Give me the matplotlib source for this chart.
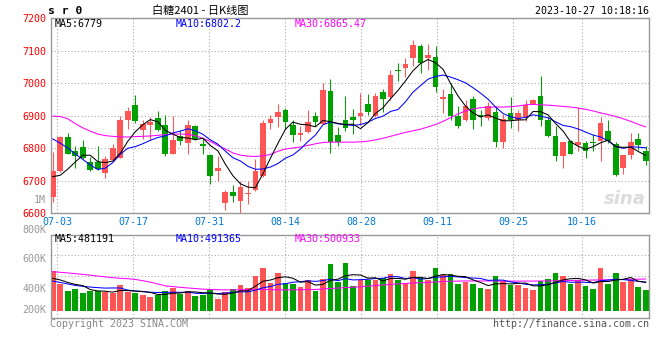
import matplotlib
matplotlib.use('Agg')
import matplotlib.pyplot as plt

# SR0 white sugar daily bars, 06-30 .. 10-27 (80 trading days)
opens = [6648, 6728, 6835, 6792, 6802, 6758, 6757, 6723, 6762, 6770,
         6885, 6933, 6856, 6871, 6892, 6871, 6783, 6836, 6814, 6868,
         6813, 6779, 6728, 6630, 6665, 6636, 6657, 6670, 6713, 6877,
         6895, 6918, 6871, 6841, 6850, 6899, 6875, 6976, 6841, 6887,
         6896, 6897, 6936, 6897, 6973, 6958, 7040, 7046, 7076, 7114,
         7076, 7080, 6950, 6967, 6897, 6885, 6950, 6902, 6892, 6912,
         6817, 6907, 6885, 6895, 6936, 6961, 6887, 6838, 6774, 6822,
         6810, 6815, 6819, 6823, 6853, 6812, 6740, 6779, 6827, 6790]
highs = [6787, 6836, 6847, 6805, 6825, 6773, 6806, 6774, 6813, 6899,
         6926, 6964, 6887, 6895, 6913, 6902, 6897, 6856, 6887, 6871,
         6830, 6781, 6776, 6672, 6687, 6697, 6697, 6766, 6887, 6902,
         6936, 6923, 6887, 6868, 6918, 6912, 6999, 7012, 6866, 6961,
         6920, 6968, 6967, 6969, 6981, 7041, 7061, 7076, 7133, 7120,
         7120, 7114, 6981, 6999, 6930, 6948, 6959, 6918, 6943, 6930,
         6905, 6956, 6918, 6948, 6950, 7022, 6895, 6868, 6820, 6825,
         6926, 6822, 6843, 6895, 6887, 6820, 6779, 6846, 6846, 6805]
lows = [6633, 6725, 6781, 6737, 6766, 6729, 6733, 6709, 6760, 6770,
        6859, 6877, 6827, 6825, 6851, 6776, 6781, 6808, 6783, 6825,
        6783, 6689, 6697, 6610, 6633, 6601, 6627, 6668, 6710, 6859,
        6866, 6860, 6817, 6823, 6846, 6868, 6875, 6786, 6805, 6851,
        6843, 6871, 6901, 6895, 6912, 6948, 7005, 7020, 7051, 7032,
        7041, 6971, 6907, 6885, 6863, 6882, 6858, 6869, 6885, 6803,
        6799, 6862, 6851, 6882, 6934, 6869, 6834, 6761, 6738, 6781,
        6790, 6769, 6790, 6761, 6815, 6715, 6721, 6766, 6793, 6749]
closes = [6730, 6833, 6783, 6774, 6768, 6731, 6735, 6767, 6799, 6887,
          6915, 6882, 6874, 6879, 6854, 6782, 6825, 6822, 6871, 6828,
          6805, 6713, 6740, 6665, 6651, 6681, 6662, 6730, 6878, 6890,
          6911, 6879, 6840, 6845, 6881, 6881, 6977, 6820, 6820, 6863,
          6887, 6908, 6912, 6961, 6951, 7025, 7037, 7059, 7117, 7061,
          7087, 6989, 6957, 6899, 6869, 6930, 6885, 6895, 6930, 6820,
          6889, 6885, 6907, 6933, 6948, 6885, 6836, 6774, 6817, 6783,
          6817, 6790, 6814, 6877, 6822, 6718, 6779, 6818, 6810, 6761]

ma5 = [6712, 6716, 6735, 6757, 6777.6, 6777.8, 6758.2, 6755, 6760, 6783.8,
       6820.6, 6850, 6871.4, 6887.4, 6880.8, 6854.2, 6842.8, 6832.4, 6830.8, 6825.6,
       6830.2, 6807.8, 6791.4, 6750.2, 6714.8, 6690, 6679.8, 6677.8, 6720.4, 6768.2,
       6814.2, 6857.6, 6879.6, 6873, 6871.2, 6865.2, 6884.8, 6880.8, 6875.8, 6872.2,
       6873.4, 6859.6, 6878, 6906.2, 6923.8, 6951.4, 6977.2, 7006.6, 7037.8, 7059.8,
       7072.2, 7062.6, 7042.2, 6998.6, 6960.2, 6928.8, 6908, 6895.6, 6901.8, 6892,
       6883.8, 6883.8, 6886.2, 6886.8, 6912.4, 6911.6, 6901.8, 6875.2, 6852, 6819,
       6805.4, 6796.2, 6804.2, 6816.2, 6824, 6804.2, 6802, 6802.8, 6789.4, 6777.2]
ma10 = [6828, 6815, 6800, 6782, 6765, 6748, 6734, 6738, 6755, 6780.7,
        6799.2, 6804.1, 6813.2, 6823.7, 6832.3, 6837.4, 6846.4, 6851.9, 6859.1, 6853.2,
        6842.2, 6825.3, 6811.9, 6790.5, 6770.2, 6760.1, 6743.8, 6734.6, 6735.3, 6741.5,
        6752.1, 6768.7, 6778.7, 6796.7, 6819.7, 6839.7, 6871.2, 6880.2, 6874.4, 6871.7,
        6869.3, 6872.2, 6879.4, 6891, 6898, 6912.4, 6918.4, 6942.3, 6972, 6991.8,
        7011.8, 7019.9, 7024.4, 7018.2, 7010, 7000.5, 6985.3, 6968.9, 6950.2, 6926.1,
        6906.3, 6895.9, 6890.9, 6894.3, 6902.2, 6897.7, 6892.8, 6880.7, 6869.4, 6865.7,
        6858.5, 6849, 6839.7, 6834.1, 6821.5, 6804.8, 6799.1, 6803.5, 6802.8, 6800.6]
ma30 = [6898, 6897, 6890, 6875, 6862, 6852, 6843, 6838, 6836, 6834,
        6834, 6835, 6836, 6837, 6839, 6841, 6843, 6843, 6842, 6838,
        6830, 6820, 6808, 6797, 6785, 6778, 6775, 6774, 6776, 6780,
        6790, 6797, 6800, 6803, 6808, 6813, 6817, 6818, 6818, 6818,
        6818, 6819, 6821, 6825, 6830, 6836, 6842, 6848, 6853, 6858,
        6865, 6872, 6882, 6893, 6905, 6914, 6920, 6924, 6926, 6926,
        6926, 6927, 6929, 6933, 6934, 6933, 6932, 6930, 6928, 6926,
        6923, 6919, 6914, 6908, 6903, 6897, 6890, 6882, 6873, 6865]

# volume, thousands of lots
volumes = [554, 469, 422, 435, 406, 420, 420, 413, 406, 460,
           415, 406, 393, 379, 393, 420, 442, 402, 420, 388,
           393, 431, 366, 413, 433, 460, 440, 521, 575, 474,
           541, 471, 469, 444, 494, 420, 500, 602, 482, 611,
           453, 494, 494, 494, 507, 534, 494, 471, 554, 507,
           494, 575, 527, 534, 467, 480, 467, 440, 433, 521,
           487, 460, 460, 440, 426, 487, 500, 541, 521, 467,
           494, 453, 433, 575, 467, 541, 480, 494, 447, 426]
vol_ma5 = [505, 495, 478, 465, 457, 430, 421, 419, 413, 424,
           423, 420, 416, 411, 397, 398, 405, 407, 415, 414,
           409, 407, 400, 398, 407, 421, 422, 453, 486, 494,
           510, 516, 506, 480, 484, 460, 465, 492, 500, 523,
           530, 528, 507, 509, 488, 505, 505, 500, 512, 512,
           504, 520, 531, 527, 519, 517, 495, 478, 457, 468,
           470, 468, 472, 474, 455, 455, 463, 479, 495, 503,
           505, 495, 474, 484, 484, 494, 499, 511, 486, 478]
vol_ma10 = [487, 478, 468, 458, 452, 447, 443, 440, 441, 440.5,
            426.5, 420.5, 417.5, 412, 410.5, 410.5, 412.5, 411.5, 413, 405.5,
            403.5, 406, 403.5, 406.5, 410.5, 415, 414.5, 426.5, 442, 450.5,
            465.5, 469, 479.5, 483, 489, 485, 490.5, 499, 490, 503.5,
            495, 496.5, 499.5, 504.5, 505.5, 517.5, 516.5, 503.5, 510.5, 500,
            504.5, 512.5, 515.5, 519.5, 515.5, 510.5, 507.5, 504.5, 492, 493.5,
            493.5, 481.5, 475, 465.5, 461.5, 462.5, 465.5, 475.5, 484.5, 479,
            480, 479, 476.5, 489.5, 493.5, 499.5, 497, 492.5, 485, 481]
vol_ma30 = [550, 546, 542, 537, 532, 527, 521, 515, 510, 506,
            503, 498, 490, 480, 468, 455, 450, 445, 441, 437,
            433, 431, 429, 428, 428, 429, 430, 430, 431, 430,
            429, 428, 428, 429, 430, 431, 434, 437, 440, 443,
            446, 449, 453, 457, 461, 465, 468, 471, 474, 476,
            478, 481, 484, 486, 487, 488, 488, 488, 488, 488,
            487, 487, 487, 487, 487, 488, 488, 489, 490, 491,
            492, 493, 494, 495, 496, 497, 498, 499, 500, 501]

date_idx = [1, 11, 21, 31, 41, 51, 61, 70]
date_labels = ['07-03', '07-17', '07-31', '08-14', '08-28', '09-11', '09-25', '10-16']
price_ticks = [6600, 6700, 6800, 6900, 7000, 7100, 7200]
vol_ticks = [400, 600, 800]
vol_labels = ['400K', '600K', '800K']

RED = '#ff5555'
GREEN = '#00a000'
GRID = '#aaaaaa'
FRAME = '#999999'
MONO = 'DejaVu Sans Mono'
FS = 7.2
LW = 0.75

fig = plt.figure(figsize=(6.6, 3.6), dpi=100)
ax = fig.add_axes([0.0768, 0.4083, 0.9065, 0.5417])
axv = fig.add_axes([0.0768, 0.1158, 0.9065, 0.2328])

x = list(range(len(closes)))
colors = [RED if c >= o else GREEN for o, c in zip(opens, closes)]
# sina puts the date grid on a slightly wider step than the candles
tick_pos = [i * 80 / 79 - 0.4 for i in date_idx]

# price panel
ax.vlines(x, lows, highs, colors=colors, lw=LW, zorder=2)
body_lo = [min(o, c) for o, c in zip(opens, closes)]
body_h = [max(abs(c - o), 3) for o, c in zip(opens, closes)]
ax.bar(x, body_h, bottom=body_lo, width=0.76, color=colors, lw=0, zorder=3)
ax.plot(x, ma30, color='#ff00ff', lw=LW, zorder=4)
ax.plot(x, ma10, color='#0000ff', lw=LW, zorder=4)
ax.plot(x, ma5, color='black', lw=LW, zorder=4)

ax.set_xlim(-0.27, 79.44)
ax.set_ylim(6600, 7200)
ax.set_yticks(price_ticks)
ax.set_yticklabels([str(p) for p in price_ticks], fontfamily=MONO, fontsize=FS, color='red')
ax.set_xticks(tick_pos)
ax.set_xticklabels(date_labels, fontfamily=MONO, fontsize=FS, color='#0078d7')
ax.tick_params(length=0, pad=3)
ax.grid(True, linestyle=(0, (1, 2)), color=GRID, lw=0.8, zorder=0)
for s in ax.spines.values():
    s.set_color(FRAME)
    s.set_linewidth(1.0)

ax.text(0.007, 0.968, 'MA5:6779', transform=ax.transAxes, fontfamily=MONO, fontsize=FS, color='black', va='center')
ax.text(0.208, 0.968, 'MA10:6802.2', transform=ax.transAxes, fontfamily=MONO, fontsize=FS, color='#0000ff', va='center')
ax.text(0.408, 0.968, 'MA30:6865.47', transform=ax.transAxes, fontfamily=MONO, fontsize=FS, color='#ff00ff', va='center')
ax.text(-0.008, 0.067, '1M', transform=ax.transAxes, fontfamily=MONO, fontsize=FS, color=FRAME, ha='right', va='center')
ax.text(0.995, 0.07, 'sina', transform=ax.transAxes, fontsize=13, fontweight='bold', fontstyle='italic',
        color='#dcdcdc', ha='right', va='center', zorder=1)

# volume panel
vol_base = 288
axv.bar(x, [v - vol_base for v in volumes], bottom=vol_base, width=0.76, color=colors, lw=0, zorder=2)
axv.plot(x, vol_ma30, color='#ff00ff', lw=LW, zorder=3)
axv.plot(x, vol_ma10, color='#0000ff', lw=LW, zorder=3)
axv.plot(x, vol_ma5, color='black', lw=LW, zorder=3)
axv.set_xlim(-0.27, 79.44)
vlo, vhi = 237, 800
axv.set_ylim(vlo, vhi)
axv.set_yticks(vol_ticks)
axv.set_yticklabels(vol_labels, fontfamily=MONO, fontsize=FS, color=FRAME, va='bottom')
axv.set_yticks([vlo + (vhi - vlo) * f for f in (0.25, 0.5, 0.75)], minor=True)
axv.set_xticks(tick_pos)
axv.set_xticklabels([])
axv.tick_params(which='both', length=0, pad=3)
axv.grid(True, axis='x', linestyle=(0, (1, 2)), color=GRID, lw=0.8, zorder=0)
axv.grid(True, axis='y', which='minor', linestyle=(0, (1, 2)), color=GRID, lw=0.8, zorder=0)
for s in axv.spines.values():
    s.set_color(FRAME)
    s.set_linewidth(1.0)
axv.text(-0.008, 0.1, '200K', transform=axv.transAxes, fontfamily=MONO, fontsize=FS, color=FRAME, ha='right', va='center')
axv.text(0.007, 0.945, 'MA5:481191', transform=axv.transAxes, fontfamily=MONO, fontsize=FS, color='black', va='center')
axv.text(0.208, 0.945, 'MA10:491365', transform=axv.transAxes, fontfamily=MONO, fontsize=FS, color='#0000ff', va='center')
axv.text(0.408, 0.945, 'MA30:500933', transform=axv.transAxes, fontfamily=MONO, fontsize=FS, color='#ff00ff', va='center')

# header / footer
ty = 1 - 11 / 360
fig.text(48 / 660, ty, 's r 0', fontfamily=MONO, fontweight='bold', fontsize=8.2, va='center')
fig.text(200 / 660, ty, '白糖2401 - 日K线图', fontfamily=['Noto Sans CJK SC', 'DejaVu Sans'], fontsize=8,
         va='center', ha='center')
fig.text(649 / 660, ty, '2023-10-27 10:18:16', fontfamily=MONO, fontsize=FS, va='center', ha='right')
by = 1 - 324 / 360
fig.text(50 / 660, by, 'Copyright 2023 SINA.COM', fontfamily=MONO, fontsize=FS, color='#888888', va='center')
fig.text(649 / 660, by, 'http://finance.sina.com.cn', fontfamily=MONO, fontsize=FS, color='#555555',
         va='center', ha='right')

fig.savefig('out.png', dpi=100)
